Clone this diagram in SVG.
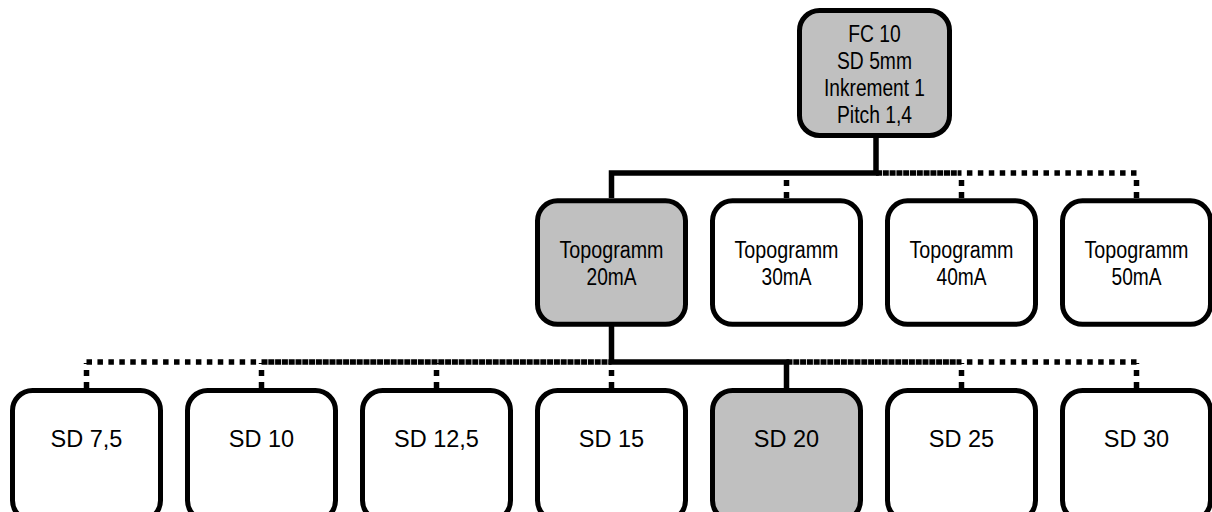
<svg xmlns="http://www.w3.org/2000/svg" width="1212" height="512" viewBox="0 0 1212 512">
<style>
.box{stroke:#000;stroke-width:5;fill:#fff}
.sel{fill:#c0c0c0}
.n{font-family:"Liberation Sans Narrow","Arial Narrow","Liberation Sans",sans-serif;font-size:23.5px;text-anchor:middle;fill:#000}
.w{font-family:"Liberation Sans",Arial,sans-serif;font-size:23.5px;text-anchor:middle;fill:#000}
.solid{stroke:#000;stroke-width:5.5;fill:none}
.dash{stroke:#000;stroke-width:5.5;fill:none;stroke-dasharray:5.5 5.44}
.dense{stroke:#000;stroke-width:5.5;fill:none;stroke-dasharray:6 0.8}
.drop{stroke:#000;stroke-width:5.5;fill:none;stroke-dasharray:6 6}
</style>
<g id="connectors">
<path class="dense" d="M876 173 H961.5"/>
<path class="dash" d="M1136.5 173 H961.5"/>
<path class="drop" d="M786.5 198 V174"/>
<path class="drop" d="M961.5 198 V174"/>
<path class="drop" d="M1136.5 198 V174"/>
<path class="solid" d="M876 138 V173 H611.5 V198"/>
<path class="dash" d="M86.5 362 H261.5"/>
<path class="dense" d="M261.5 362 H611.5"/>
<path class="dense" d="M786.5 362 H961.5"/>
<path class="dash" d="M1136.5 362 H961.5"/>
<path class="drop" d="M86.5 388 V363"/>
<path class="drop" d="M261.5 388 V363"/>
<path class="drop" d="M436.5 388 V363"/>
<path class="drop" d="M611.5 388 V363"/>
<path class="drop" d="M961.5 388 V363"/>
<path class="drop" d="M1136.5 388 V363"/>
<path class="solid" d="M611.5 326 V362 H786.5 V389"/>
</g>
<g id="root">
<rect class="box sel" x="799.5" y="10.5" width="150" height="125" rx="20"/>
<text class="n" x="874.5" y="42" textLength="52.5" lengthAdjust="spacingAndGlyphs">FC 10</text>
<text class="n" x="874.5" y="69" textLength="75" lengthAdjust="spacingAndGlyphs">SD 5mm</text>
<text class="n" x="874.5" y="96" textLength="101" lengthAdjust="spacingAndGlyphs">Inkrement 1</text>
<text class="n" x="874.5" y="123" textLength="75" lengthAdjust="spacingAndGlyphs">Pitch 1,4</text>
</g>
<g id="topo20">
<rect class="box sel" x="537.5" y="200.8" width="148" height="123.5" rx="20"/>
<text class="n" x="611.5" y="258" textLength="104" lengthAdjust="spacingAndGlyphs">Topogramm</text>
<text class="n" x="611.5" y="285" textLength="50" lengthAdjust="spacingAndGlyphs">20mA</text>
</g>
<g id="topo30">
<rect class="box" x="712.5" y="200.8" width="148" height="123.5" rx="20"/>
<text class="n" x="786.5" y="258" textLength="104" lengthAdjust="spacingAndGlyphs">Topogramm</text>
<text class="n" x="786.5" y="285" textLength="50" lengthAdjust="spacingAndGlyphs">30mA</text>
</g>
<g id="topo40">
<rect class="box" x="887.5" y="200.8" width="148" height="123.5" rx="20"/>
<text class="n" x="961.5" y="258" textLength="104" lengthAdjust="spacingAndGlyphs">Topogramm</text>
<text class="n" x="961.5" y="285" textLength="50" lengthAdjust="spacingAndGlyphs">40mA</text>
</g>
<g id="topo50">
<rect class="box" x="1062.5" y="200.8" width="148" height="123.5" rx="20"/>
<text class="n" x="1136.5" y="258" textLength="104" lengthAdjust="spacingAndGlyphs">Topogramm</text>
<text class="n" x="1136.5" y="285" textLength="50" lengthAdjust="spacingAndGlyphs">50mA</text>
</g>
<g id="sd75"><rect class="box" x="12.5" y="390.5" width="148" height="130" rx="20"/><text class="w" x="86.5" y="447">SD 7,5</text></g>
<g id="sd10"><rect class="box" x="187.5" y="390.5" width="148" height="130" rx="20"/><text class="w" x="261.5" y="447">SD 10</text></g>
<g id="sd125"><rect class="box" x="362.5" y="390.5" width="148" height="130" rx="20"/><text class="w" x="436.5" y="447">SD 12,5</text></g>
<g id="sd15"><rect class="box" x="537.5" y="390.5" width="148" height="130" rx="20"/><text class="w" x="611.5" y="447">SD 15</text></g>
<g id="sd20"><rect class="box sel" x="712.5" y="390.5" width="148" height="130" rx="20"/><text class="w" x="786.5" y="447">SD 20</text></g>
<g id="sd25"><rect class="box" x="887.5" y="390.5" width="148" height="130" rx="20"/><text class="w" x="961.5" y="447">SD 25</text></g>
<g id="sd30"><rect class="box" x="1062.5" y="390.5" width="148" height="130" rx="20"/><text class="w" x="1136.5" y="447">SD 30</text></g>
</svg>
